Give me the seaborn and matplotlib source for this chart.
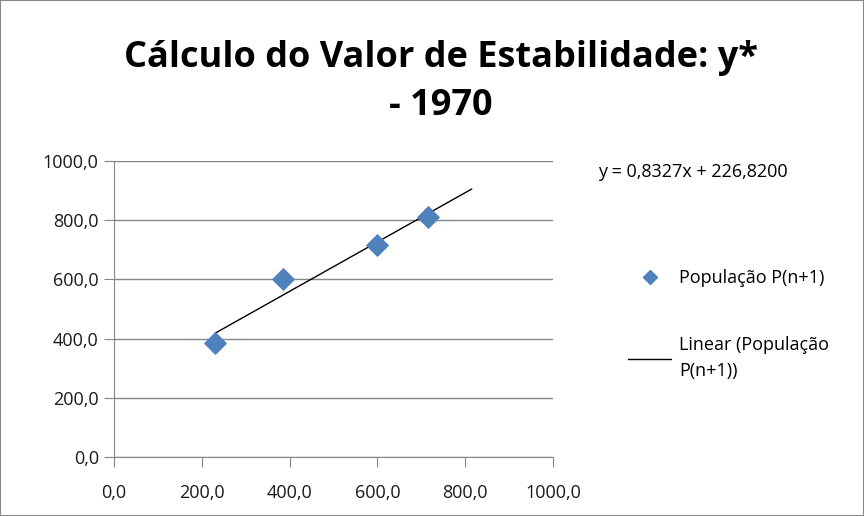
import numpy as np
import pandas as pd
import matplotlib.pyplot as plt
import seaborn as sns
from matplotlib.lines import Line2D
from matplotlib.ticker import FuncFormatter

# dados
pop_n = [230, 386, 598, 716]
pop_n1 = [386, 600, 716, 812]
coef_a = 0.8327
coef_b = 226.82
trend_x = [230, 815]

df = pd.DataFrame({'P(n)': pop_n, 'P(n+1)': pop_n1})
trend = pd.DataFrame({'x': trend_x})
trend['y'] = coef_a * trend['x'] + coef_b

sns.set_style('white')
plt.rcParams['font.family'] = ['Open Sans', 'DejaVu Sans']
plt.rcParams['text.color'] = 'black'

fig = plt.figure(figsize=(8.64, 5.16), dpi=100)
ax = fig.add_axes([0.132, 0.114, 0.508, 0.574])

sns.lineplot(data=trend, x='x', y='y', ax=ax, color='black', linewidth=1.0)
sns.scatterplot(data=df, x='P(n)', y='P(n+1)', ax=ax, marker='D', s=120,
                color='#4F81BD', edgecolor='#4F81BD', zorder=3)

ax.set_xlim(0, 1000)
ax.set_ylim(0, 1000)
ax.set_xticks(np.arange(0, 1001, 200))
ax.set_yticks(np.arange(0, 1001, 200))
fmt = FuncFormatter(lambda v, p: f'{v:.1f}'.replace('.', ','))
ax.xaxis.set_major_formatter(fmt)
ax.yaxis.set_major_formatter(fmt)
ax.set_xlabel('')
ax.set_ylabel('')
ax.yaxis.grid(True, color='#868686', linewidth=1.0)
ax.set_axisbelow(True)
for s in ['top', 'right']:
    ax.spines[s].set_visible(False)
for s in ['left', 'bottom']:
    ax.spines[s].set_color('#868686')
ax.tick_params(axis='both', which='both', length=7, color='#868686',
               labelsize=13, direction='out', left=True, bottom=True, labelcolor='#1a1a1a')
ax.tick_params(axis='x', pad=12)
ax.tick_params(axis='y', pad=4)

fig.text(0.51, 0.887, 'Cálculo do Valor de Estabilidade: y*', ha='center', va='center',
         fontsize=26, fontweight='bold', color='black')
fig.text(0.51, 0.794, '- 1970', ha='center', va='center', fontsize=26, fontweight='bold',
         color='black')

fig.text(0.692, 0.667, 'y = 0,8327x + 226,8200', ha='left', va='center', fontsize=13)

handles = [
    Line2D([], [], marker='D', color='#4F81BD', linestyle='none', markersize=7.5),
    Line2D([], [], color='black', linewidth=1.0),
]
leg = fig.legend(handles, ['População P(n+1)', 'Linear (População\nP(n+1))'],
                 loc='upper left', bbox_to_anchor=(0.708, 0.51), frameon=False,
                 fontsize=13, labelspacing=2.7, handlelength=2.4, handletextpad=0.45)
for t in leg.get_texts():
    t.set_linespacing(1.6)

fig.patches.append(plt.Rectangle((0, 0), 1, 1, transform=fig.transFigure,
                                 fill=False, edgecolor='#868686', linewidth=1.5))

fig.savefig('out.png', dpi=100)
